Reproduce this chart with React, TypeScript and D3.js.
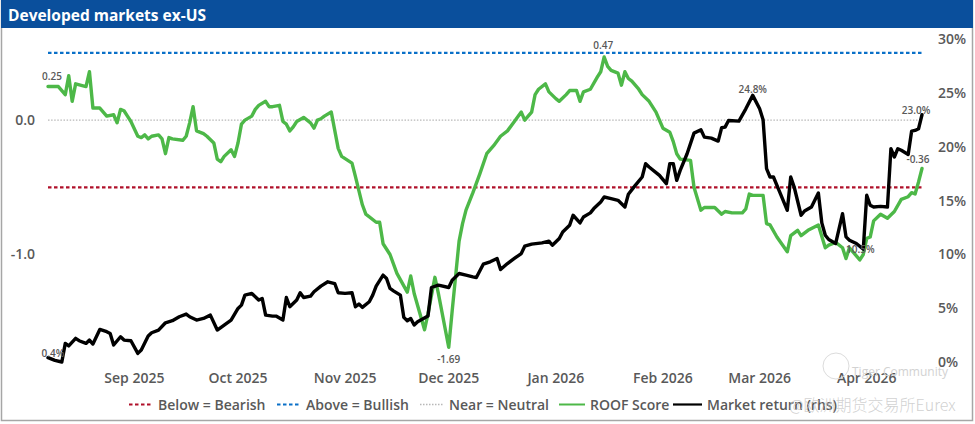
import React from 'react';
import * as d3 from 'd3';

// ---------- DATA ----------
const roofDates = [
  '2025-08-07','2025-08-10','2025-08-12','2025-08-13','2025-08-14','2025-08-15','2025-08-18','2025-08-19','2025-08-20','2025-08-22',
  '2025-08-23','2025-08-24','2025-08-26','2025-08-27','2025-08-28','2025-08-29','2025-08-30','2025-08-31','2025-09-02','2025-09-03',
  '2025-09-04','2025-09-05','2025-09-06','2025-09-08','2025-09-09','2025-09-10','2025-09-11','2025-09-12','2025-09-15','2025-09-16',
  '2025-09-17','2025-09-18','2025-09-19','2025-09-21','2025-09-22','2025-09-24','2025-09-25','2025-09-26','2025-09-27','2025-09-29',
  '2025-09-30','2025-10-01','2025-10-02','2025-10-03','2025-10-05','2025-10-06','2025-10-07','2025-10-09','2025-10-10','2025-10-11',
  '2025-10-13','2025-10-14','2025-10-15','2025-10-16','2025-10-17','2025-10-18','2025-10-20','2025-10-21','2025-10-22','2025-10-23',
  '2025-10-24','2025-10-25','2025-10-26','2025-10-28','2025-10-30','2025-10-31','2025-11-03','2025-11-04','2025-11-06','2025-11-07',
  '2025-11-10','2025-11-11','2025-11-12','2025-11-14','2025-11-16','2025-11-19','2025-11-20','2025-11-21','2025-11-24','2025-11-25',
  '2025-11-27','2025-11-28','2025-12-01','2025-12-02','2025-12-04','2025-12-05','2025-12-06','2025-12-08','2025-12-10','2025-12-12',
  '2025-12-14','2025-12-16','2025-12-18','2025-12-20','2025-12-22','2025-12-23','2025-12-25','2025-12-26','2025-12-27','2025-12-29',
  '2025-12-30','2026-01-01','2026-01-02','2026-01-04','2026-01-05','2026-01-07','2026-01-08','2026-01-09','2026-01-11','2026-01-13',
  '2026-01-14','2026-01-15','2026-01-16','2026-01-17','2026-01-19','2026-01-20','2026-01-21','2026-01-22','2026-01-23','2026-01-25',
  '2026-01-26','2026-01-28','2026-01-30','2026-01-31','2026-02-01','2026-02-03','2026-02-04','2026-02-05','2026-02-06','2026-02-09',
  '2026-02-10','2026-02-12','2026-02-13','2026-02-16','2026-02-18','2026-02-19','2026-02-21','2026-02-24','2026-02-25','2026-02-26',
  '2026-02-27','2026-03-02','2026-03-03','2026-03-04','2026-03-06','2026-03-09','2026-03-10','2026-03-12','2026-03-13','2026-03-15',
  '2026-03-18','2026-03-20','2026-03-21','2026-03-23','2026-03-25','2026-03-26','2026-03-27','2026-03-29','2026-03-30','2026-03-31',
  '2026-04-01','2026-04-02','2026-04-03','2026-04-05','2026-04-07','2026-04-09','2026-04-11','2026-04-13','2026-04-14','2026-04-15',
  '2026-04-16','2026-04-17',
];
const roofScores = [
  0.25,0.25,0.19,0.33,0.14,0.27,0.25,0.36,0.09,0.09,
  0.06,0.03,0.04,-0.02,0.08,0.07,0.03,-0.01,-0.12,-0.13,
  -0.11,-0.14,-0.12,-0.11,-0.14,-0.25,-0.13,-0.14,-0.15,-0.12,
  -0.02,0.10,-0.08,-0.10,-0.12,-0.17,-0.29,-0.31,-0.27,-0.22,
  -0.27,-0.17,-0.03,0.00,0.03,0.08,0.11,0.14,0.10,0.10,
  0.11,-0.01,-0.03,-0.08,-0.05,-0.01,0.02,0.00,-0.02,-0.06,
  0.00,0.01,0.03,0.06,-0.21,-0.27,-0.32,-0.42,-0.63,-0.70,
  -0.76,-0.76,-0.92,-1.00,-1.14,-1.28,-1.16,-1.29,-1.56,-1.44,
  -1.17,-1.29,-1.69,-1.42,-0.90,-0.77,-0.67,-0.54,-0.40,-0.25,
  -0.19,-0.12,-0.08,-0.01,0.06,0.00,0.06,0.19,0.23,0.27,
  0.21,0.16,0.14,0.19,0.22,0.22,0.14,0.21,0.23,0.32,
  0.36,0.47,0.40,0.37,0.35,0.26,0.36,0.31,0.29,0.23,
  0.19,0.14,0.06,0.00,-0.06,-0.09,-0.16,-0.25,-0.29,-0.30,
  -0.50,-0.67,-0.65,-0.65,-0.70,-0.68,-0.69,-0.69,-0.66,-0.55,
  -0.56,-0.56,-0.77,-0.78,-0.87,-0.98,-0.86,-0.82,-0.86,-0.82,
  -0.78,-0.95,-0.93,-0.91,-0.95,-1.03,-0.95,-1.01,-1.04,-1.00,
  -0.88,-0.87,-0.75,-0.70,-0.73,-0.68,-0.59,-0.57,-0.54,-0.55,
  -0.46,-0.36,
];
const returnDates = [
  '2025-08-07','2025-08-09','2025-08-11','2025-08-12','2025-08-13','2025-08-15','2025-08-16','2025-08-18','2025-08-19','2025-08-20',
  '2025-08-22','2025-08-24','2025-08-25','2025-08-26','2025-08-28','2025-08-29','2025-08-31','2025-09-02','2025-09-03','2025-09-05',
  '2025-09-06','2025-09-08','2025-09-10','2025-09-12','2025-09-14','2025-09-16','2025-09-17','2025-09-19','2025-09-21','2025-09-23',
  '2025-09-25','2025-09-27','2025-09-29','2025-10-01','2025-10-02','2025-10-03','2025-10-05','2025-10-07','2025-10-08','2025-10-09',
  '2025-10-11','2025-10-12','2025-10-14','2025-10-15','2025-10-16','2025-10-18','2025-10-19','2025-10-20','2025-10-22','2025-10-23',
  '2025-10-25','2025-10-27','2025-10-29','2025-10-30','2025-11-01','2025-11-03','2025-11-04','2025-11-05','2025-11-06','2025-11-08',
  '2025-11-09','2025-11-10','2025-11-12','2025-11-13','2025-11-14','2025-11-15','2025-11-17','2025-11-18','2025-11-19','2025-11-20',
  '2025-11-21','2025-11-22','2025-11-25','2025-11-26','2025-11-28','2025-12-01','2025-12-02','2025-12-04','2025-12-06','2025-12-08',
  '2025-12-09','2025-12-11','2025-12-13','2025-12-15','2025-12-16','2025-12-18','2025-12-20','2025-12-22','2025-12-23','2025-12-25',
  '2025-12-28','2025-12-30','2025-12-31','2026-01-02','2026-01-03','2026-01-05','2026-01-06','2026-01-08','2026-01-09','2026-01-11',
  '2026-01-12','2026-01-14','2026-01-15','2026-01-17','2026-01-19','2026-01-21','2026-01-22','2026-01-24','2026-01-26','2026-01-27',
  '2026-01-28','2026-01-31','2026-02-02','2026-02-03','2026-02-04','2026-02-05','2026-02-06','2026-02-08','2026-02-10','2026-02-12',
  '2026-02-13','2026-02-15','2026-02-17','2026-02-18','2026-02-19','2026-02-20','2026-02-23','2026-02-25','2026-02-27','2026-03-01',
  '2026-03-02','2026-03-03','2026-03-04','2026-03-05','2026-03-07','2026-03-09','2026-03-10','2026-03-11','2026-03-13','2026-03-14',
  '2026-03-16','2026-03-18','2026-03-19','2026-03-20','2026-03-21','2026-03-23','2026-03-25','2026-03-26','2026-03-27','2026-03-29',
  '2026-03-31','2026-04-01','2026-04-02','2026-04-03','2026-04-05','2026-04-07','2026-04-08','2026-04-09','2026-04-10','2026-04-11',
  '2026-04-13','2026-04-14','2026-04-15','2026-04-16','2026-04-17',
];
const marketReturns = [
  0.4,0.15,0.0,1.73,1.49,2.2,1.98,1.73,2.04,1.67,
  3.03,2.82,2.66,1.58,2.35,2.04,1.98,0.8,1.11,2.41,
  2.72,2.97,3.65,3.84,4.21,4.46,4.21,3.9,4.05,4.36,
  2.97,3.44,3.9,4.98,5.29,6.22,6.38,5.76,5.91,4.36,
  4.27,4.27,3.9,6.0,5.14,5.76,6.44,6.0,6.13,6.53,
  7.06,7.46,7.3,6.44,6.38,6.44,5.14,5.39,5.08,5.6,
  6.22,7.06,8.08,7.77,6.84,6.62,6.22,4.15,3.84,4.05,
  3.44,3.74,4.27,6.93,7.15,6.93,7.61,8.23,8.08,7.92,
  7.86,9.1,9.32,9.63,8.6,9.16,9.63,10.09,10.77,10.96,
  11.08,11.24,10.86,11.48,12.1,12.72,13.65,12.94,13.49,13.87,
  14.27,14.89,15.35,15.2,15.04,14.42,15.6,16.43,17.21,18.45,
  18.14,17.36,16.59,18.45,18.45,16.9,17.83,19.37,21.29,21.6,
  20.92,20.83,20.55,21.79,21.85,22.47,22.41,23.55,24.8,23.55,
  22.53,17.98,17.21,17.21,15.66,14.11,17.21,16.28,13.65,14.05,
  14.42,15.72,12.94,11.79,11.39,11.02,13.8,11.64,11.33,11.02,
  10.5,15.51,14.58,14.42,14.48,14.42,19.84,19.07,19.84,19.69,
  19.31,21.48,21.54,21.7,23.0,
];
const leftTicks = [-1, 0];
const rightTicks = [0, 5, 10, 15, 20, 25, 30];
const monthTicks = ['2025-09-01','2025-10-01','2025-11-01','2025-12-01','2026-01-01','2026-02-01','2026-03-01','2026-04-01'];
const bullishLevel = 0.5;
const neutralLevel = 0;
const bearishLevel = -0.5;
const titleText = 'Developed markets ex-US';
const legendLabels = ['Below = Bearish', 'Above = Bullish', 'Near = Neutral', 'ROOF Score', 'Market return (rhs)'];
const watermarkText = '@欧洲期货交易所Eurex';
const logoText = 'Tiger Community';

// ---------- STYLE ----------
const W = 975, H = 424;
const GREEN = '#4db848';
const BLUE = '#0a70c8';
const RED = '#b0102a';
const GREY_DOT = '#b8b8b8';
const TXT = '#595959';
const FONT = '"Open Sans", "Noto Sans", sans-serif';

const parse = d3.timeParse('%Y-%m-%d');
const loc = d3.formatLocale({ decimal: '.', thousands: ',', grouping: [3], currency: ['$', ''], minus: '-' });
const f2 = loc.format('.2f');
const f1 = loc.format('.1f');

export default function App() {
  const roof = roofDates.map((d, i) => ({ date: parse(d)!, v: roofScores[i] }));
  const ret = returnDates.map((d, i) => ({ date: parse(d)!, v: marketReturns[i] }));

  const x = d3.scaleTime()
    .domain(d3.extent(roof, (d) => d.date) as [Date, Date])
    .range([48, 922]);
  const yL = d3.scaleLinear().domain([-1.8, 0.6]).range([362, 39.5]);
  const yR = d3.scaleLinear().domain([0, 30]).range([362, 39.5]);

  const roofLine = d3.line<any>().x((d) => x(d.date)).y((d) => yL(d.v));
  const retLine = d3.line<any>().x((d) => x(d.date)).y((d) => yR(d.v));

  const [x0, x1] = x.range();

  const gMax = d3.maxIndex(roof, (d) => d.v);
  const gMin = d3.minIndex(roof, (d) => d.v);
  const bMax = d3.maxIndex(ret, (d) => d.v);
  // trough after the peak
  const bMin = bMax + d3.minIndex(ret.slice(bMax), (d) => d.v);
  const gLast = roof.length - 1;
  const bLast = ret.length - 1;

  const annotations = [
    { px: x(roof[0].date), py: yL(roof[0].v), text: f2(roof[0].v), dx: 4, dy: -7 },
    { px: x(roof[gMax].date), py: yL(roof[gMax].v), text: f2(roof[gMax].v), dx: -1, dy: -8 },
    { px: x(roof[gMin].date), py: yL(roof[gMin].v), text: f2(roof[gMin].v), dx: 0, dy: 16 },
    { px: x(roof[gLast].date), py: yL(roof[gLast].v), text: f2(roof[gLast].v), dx: -4, dy: -6 },
    { px: x(ret[0].date), py: yR(ret[0].v), text: f1(ret[0].v) + '%', dx: 5, dy: -1 },
    { px: x(ret[bMax].date), py: yR(ret[bMax].v), text: f1(ret[bMax].v) + '%', dx: 0, dy: -2 },
    { px: x(ret[bMin].date), py: yR(ret[bMin].v), text: f1(ret[bMin].v) + '%', dx: -3, dy: 4 },
    { px: x(ret[bLast].date), py: yR(ret[bLast].v), text: f1(ret[bLast].v) + '%', dx: -6, dy: -1 },
  ];

  const legendX = [129, 277, 420, 559, 673];
  const legendSw = [
    { stroke: RED, dash: '3.5 2.5', w: 2.2, len: 24 },
    { stroke: BLUE, dash: '3.5 2.5', w: 2.2, len: 24 },
    { stroke: GREY_DOT, dash: '1.5 1.5', w: 1.3, len: 24 },
    { stroke: GREEN, dash: undefined, w: 2, len: 26 },
    { stroke: '#000', dash: undefined, w: 2.2, len: 29 },
  ];

  return (
    <svg width={W} height={H} style={{ position: 'absolute', left: 0, top: 0, fontFamily: FONT }}>
      <rect x={1.5} y={0.5} width={971} height={420} fill="#fff" stroke="#a6a6a6" strokeWidth={1.5} />
      <rect x={1} y={0} width={972} height={28} fill="#0a4f9c" />
      <text x={8} y={20.5} fill="#fff" fontSize={15.5} fontWeight={700}>{titleText}</text>

      {/* threshold lines */}
      <line x1={x0} x2={x1} y1={yL(bullishLevel)} y2={yL(bullishLevel)} stroke={BLUE} strokeWidth={2.3} strokeDasharray="3.5 2.5" />
      <line x1={x0} x2={x1} y1={yL(neutralLevel)} y2={yL(neutralLevel)} stroke={GREY_DOT} strokeWidth={1.4} strokeDasharray="1.5 1.6" />
      <line x1={x0} x2={x1} y1={yL(bearishLevel)} y2={yL(bearishLevel)} stroke={RED} strokeWidth={2.3} strokeDasharray="3.5 2.5" />

      {/* left axis labels */}
      {leftTicks.map((t) => (
        <text key={t} x={35} y={yL(t)} dy="0.35em" textAnchor="end" fill={TXT} fontSize={14} fontWeight={600}>{f1(t)}</text>
      ))}
      {/* right axis labels */}
      {rightTicks.map((t) => (
        <text key={t} x={938} y={yR(t)} dy="0.35em" textAnchor="start" fill={TXT} fontSize={14} fontWeight={600}>{t + '%'}</text>
      ))}
      {/* x axis labels */}
      {monthTicks.map((m) => {
        const d = parse(m)!;
        return (
          <text key={m} x={x(d)} y={383} textAnchor="middle" fill={TXT} fontSize={14} fontWeight={600}>{d3.timeFormat('%b %Y')(d)}</text>
        );
      })}

      {/* watermark logo */}
      <circle cx={836} cy={366} r={13} fill="none" stroke="#dcdcdc" strokeWidth={1} />
      <text x={852} y={376} fill="#d2d2d2" fontSize={12}>{logoText}</text>

      {/* series */}
      <path d={roofLine(roof) || ''} fill="none" stroke={GREEN} strokeWidth={3.4} strokeLinejoin="round" strokeLinecap="round" />
      <path d={retLine(ret) || ''} fill="none" stroke="#000" strokeWidth={3.4} strokeLinejoin="round" strokeLinecap="round" />

      {/* annotations */}
      {annotations.map((a, i) => (
        <text key={i} x={a.px + a.dx} y={a.py + a.dy} textAnchor="middle" fill={TXT} fontSize={10} fontWeight={600}>{a.text}</text>
      ))}

      {/* legend */}
      {legendLabels.map((lab, i) => {
        const sw = legendSw[i];
        const lx = legendX[i];
        return (
          <g key={lab}>
            <line x1={lx} x2={lx + sw.len} y1={404.5} y2={404.5} stroke={sw.stroke} strokeWidth={sw.w} strokeDasharray={sw.dash} />
            <text x={lx + sw.len + 5} y={410} fill={TXT} fontSize={14} fontWeight={600}>{lab}</text>
          </g>
        );
      })}
      <text x={789} y={411} fill="#c8c8c8" fillOpacity={0.85} fontSize={16}
        style={{ fontFamily: '"Noto Sans CJK SC", "Noto Sans", sans-serif', fontWeight: 300 }}>{watermarkText}</text>
    </svg>
  );
}
